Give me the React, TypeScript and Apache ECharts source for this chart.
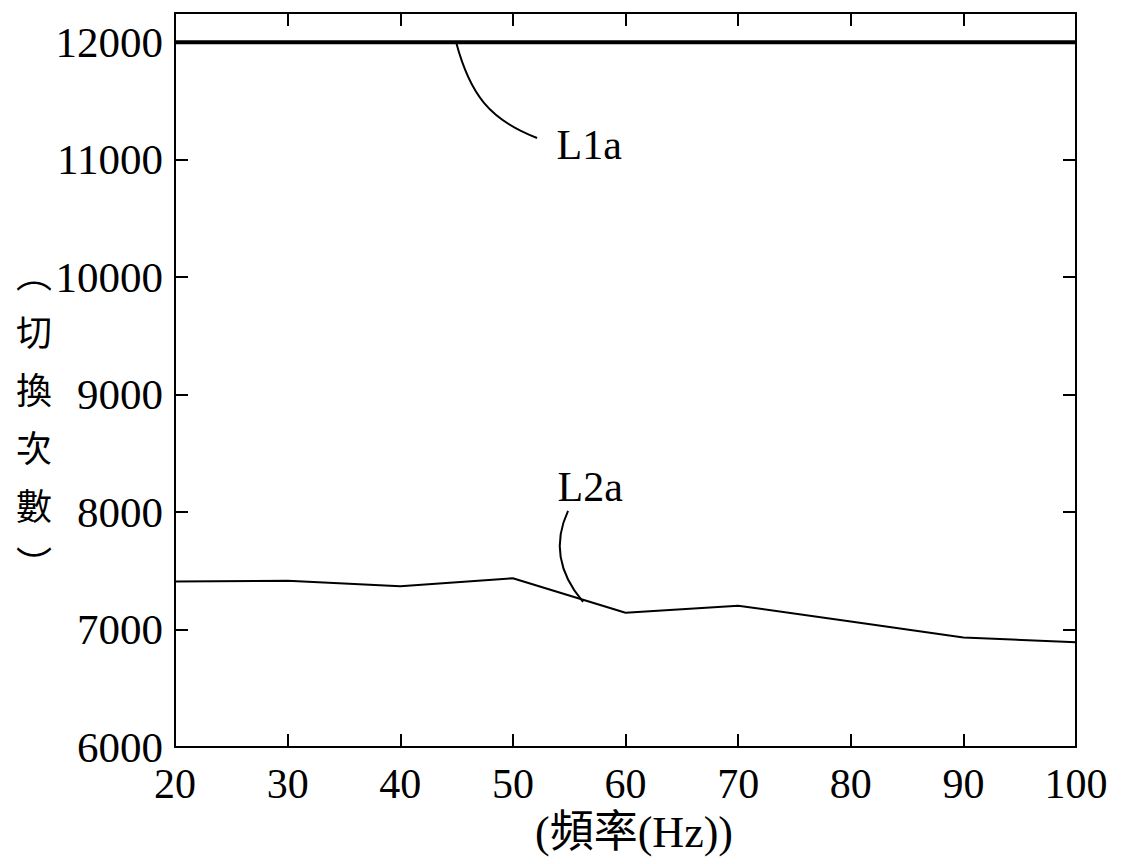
import React, { useEffect, useRef } from "react";
import * as echarts from "echarts";

const frequencies = [20, 30, 40, 50, 60, 70, 80, 90, 100];
const l1aValues = [12000, 12000, 12000, 12000, 12000, 12000, 12000, 12000, 12000];
const l2aValues = [7410, 7415, 7368, 7437, 7143, 7203, 7068, 6933, 6891];
const xTicks = [20, 30, 40, 50, 60, 70, 80, 90, 100];
const yTicks = [6000, 7000, 8000, 9000, 10000, 11000, 12000];

const xAxisTitle = "(頻率(Hz))";
const yAxisTitle = ["︵", "切", "換", "次", "數", "︶"];

// Annotation leaders (data coordinates): [start, ctrl1, ctrl2, end], and label anchor
const l1aLeader = [[44.96, 12000], [46.2, 11552], [47.97, 11339], [52.15, 11186]];
const l1aLabelPos = [56.77, 11126];
const l2aLeader = [[54.9, 8010], [53.48, 7720], [54.19, 7465], [56.23, 7235]];
const l2aLabelPos = [56.86, 8214];

const SERIF = "'Liberation Serif', 'Times New Roman', serif";
const CJK = "'Liberation Serif', 'Noto Sans CJK TC', serif";

export default function App() {
  const ref = useRef<HTMLDivElement>(null);

  useEffect(() => {
    if (!ref.current) return;
    const chart = echarts.init(ref.current, undefined, { renderer: "svg" });
    const axisLine = { show: true, lineStyle: { color: "#000", width: 2 } };
    const axisTick = { show: true, inside: true, length: 13, lineStyle: { color: "#000", width: 2 } };
    const xMin = xTicks[0];
    const xMax = xTicks[xTicks.length - 1];
    const yMin = yTicks[0];
    const yMax = 12250;
    chart.setOption({
      animation: false,
      backgroundColor: "#fff",
      grid: { left: 175, right: 48, top: 13, bottom: 117, containLabel: false },
      xAxis: [
        {
          type: "value",
          min: xMin,
          max: xMax,
          interval: 10,
          position: "bottom",
          axisLine,
          axisTick,
          splitLine: { show: false },
          axisLabel: {
            color: "#000",
            fontFamily: SERIF,
            fontSize: 42,
            margin: 16,
          },
        },
        {
          type: "value",
          min: xMin,
          max: xMax,
          interval: 10,
          position: "top",
          axisLine,
          axisTick,
          splitLine: { show: false },
          axisLabel: { show: false },
        },
      ],
      yAxis: [
        {
          type: "value",
          min: yMin,
          max: yMax,
          interval: 1000,
          position: "left",
          axisLine,
          axisTick,
          splitLine: { show: false },
          axisLabel: {
            color: "#000",
            fontFamily: SERIF,
            fontSize: 43,
            margin: 12,
            formatter: (v: number) => (yTicks.includes(v) ? String(v) : ""),
          },
        },
        {
          type: "value",
          min: yMin,
          max: yMax,
          interval: 1000,
          position: "right",
          axisLine,
          axisTick,
          splitLine: { show: false },
          axisLabel: { show: false },
        },
      ],
      series: [
        {
          name: "L1a",
          type: "line",
          data: frequencies.map((f, i) => [f, l1aValues[i]]),
          symbol: "none",
          lineStyle: { color: "#000", width: 4 },
          z: 5,
        },
        {
          name: "L2a",
          type: "line",
          data: frequencies.map((f, i) => [f, l2aValues[i]]),
          symbol: "none",
          lineStyle: { color: "#000", width: 2 },
          z: 5,
        },
      ],
    });

    const px = (p: number[]) => chart.convertToPixel({ gridIndex: 0 }, p) as number[];
    const bez = (pts: number[][]) => {
      const [a, b, c, d] = pts.map(px);
      return {
        type: "bezierCurve",
        shape: { x1: a[0], y1: a[1], cpx1: b[0], cpy1: b[1], cpx2: c[0], cpy2: c[1], x2: d[0], y2: d[1] },
        style: { stroke: "#000", lineWidth: 2, fill: "none" },
        z: 10,
      };
    };
    const l1 = px(l1aLabelPos);
    const l2 = px(l2aLabelPos);
    chart.setOption({
      graphic: [
        bez(l1aLeader),
        bez(l2aLeader),
        {
          type: "text",
          x: l1[0],
          y: l1[1],
          style: { text: "L1a", fill: "#000", font: `42px ${SERIF}`, align: "center", verticalAlign: "middle" },
          z: 10,
        },
        {
          type: "text",
          x: l2[0],
          y: l2[1],
          style: { text: "L2a", fill: "#000", font: `42px ${SERIF}`, align: "center", verticalAlign: "middle" },
          z: 10,
        },
        {
          type: "text",
          x: 634,
          y: 832,
          style: { text: xAxisTitle, fill: "#000", font: `44px ${CJK}`, align: "center", verticalAlign: "middle" },
        },
        {
          type: "text",
          x: 34,
          y: 243,
          style: {
            text: yAxisTitle.join("\n"),
            fill: "#000",
            font: `36px 'Noto Sans CJK TC', serif`,
            lineHeight: 58,
            align: "center",
            verticalAlign: "top",
          },
        },
      ],
    });

    return () => chart.dispose();
  }, []);

  return (
    <div
      ref={ref}
      style={{ position: "fixed", left: 0, top: 0, width: 1124, height: 864, background: "#fff" }}
    />
  );
}
